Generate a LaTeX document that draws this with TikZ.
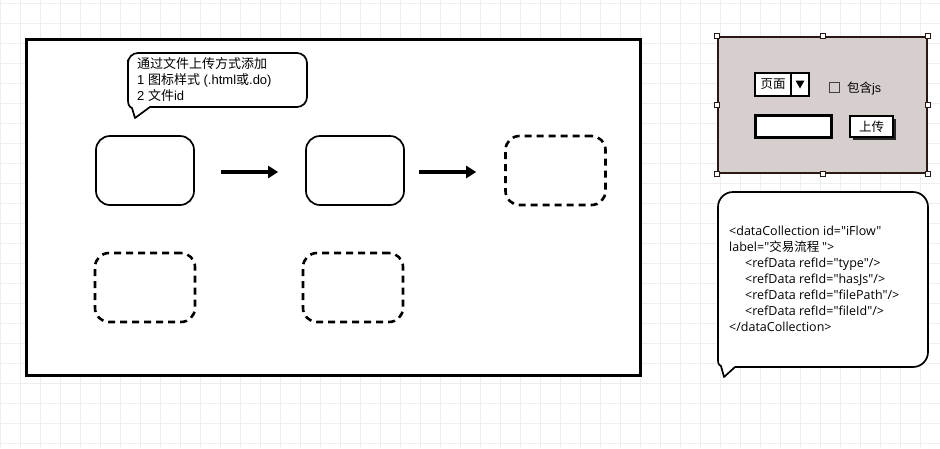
\documentclass[tikz,border=0pt]{standalone}
\usepackage{fontspec}
\setmainfont{Liberation Sans}
\newfontfamily\cjk{Noto Sans CJK SC}
\newfontfamily\xmlfont[Ligatures={NoCommon}]{Open Sans}
\newcommand\zh[1]{{\cjk #1}}
\usetikzlibrary{arrows.meta}
\definecolor{gridline}{RGB}{238,238,238}
\definecolor{panelfill}{RGB}{214,207,206}
\definecolor{paneledge}{RGB}{42,24,20}
\begin{document}
\begin{tikzpicture}[x=1pt,y=-1pt,
  frame/.style={draw=black, line width=3pt, fill=white, inner sep=0pt},
  stage/.style={draw=black, line width=1.7pt, rounded corners=14pt, fill=white,
    minimum width=98pt, minimum height=69pt, inner sep=0pt},
  todo/.style={stage, line width=2.6pt, dash pattern=on 7pt off 5pt, minimum width=100pt},
  flow/.style={line width=3.2pt, -{Triangle[length=10pt,width=12pt]}},
  callout/.style={draw=black, line width=1.7pt, fill=white, line join=round},
  panel/.style={draw=paneledge, line width=2pt, fill=panelfill, inner sep=0pt},
  handle/.style={draw=paneledge, fill=white, line width=0.7pt, minimum size=5pt, inner sep=0pt},
  field/.style={draw=black, fill=white, line width=1.4pt, inner sep=0pt},
  ui/.style={font=\cjk\fontsize{12.5}{14}\selectfont},
]
\useasboundingbox (0,0) rectangle (940,448);
% background grid
\fill[white] (0,0) rectangle (940,448);
\foreach \x in {0,20,...,940} \draw[gridline, line width=1pt] (\x,0) -- (\x,448);
\foreach \y in {3,23,...,443} \draw[gridline, line width=1pt] (0,\y) -- (940,\y);

% board
\node[frame, minimum width=614pt, minimum height=336pt] (board) at (333,207) {};

% note on the board
\draw[callout] (150,107) [rounded corners=10pt] -- (307,107) -- (307,53) -- (128,53) -- (128,70)
  [sharp corners] -- (128,100) to[out=-90,in=160] (132,108) -- (135,118) -- cycle;
\node[anchor=north west, align=left, inner sep=0pt, font=\fontsize{13}{16}\selectfont] (note1) at (137,57)
  {\zh{通过文件上传方式添加}\\1 \zh{图标样式} (.html\zh{或}.do)\\2 \zh{文件}id};

% flow stages
\node[stage] (s1) at (145,170.5) {};
\node[stage] (s2) at (355,170.5) {};
\node[todo]  (s3) at (555.5,170.5) {};
\node[todo]  (s4) at (145,287.5) {};
\node[todo]  (s5) at (353,287.5) {};
\draw[flow] ([xshift=26pt,yshift=-1.5pt]s1.east) -- ([xshift=-27pt,yshift=-1.5pt]s2.west);
\draw[flow] ([xshift=14pt,yshift=-1.5pt]s2.east) -- ([xshift=-28pt,yshift=-1.5pt]s3.west);

% upload form
\node[panel, minimum width=209pt, minimum height=136pt] (panel) at (822.5,105) {};
\foreach \a [count=\n] in {north west,north,north east,west,east,south west,south,south east}
  \node[handle] (h\n) at (panel.\a) {};
\node[field, ui, minimum width=36pt, minimum height=23pt] (pick) at (773,84.5) {页面};
\node[field, minimum width=18pt, minimum height=23pt] (pickbtn) at (800,84.5) {};
\fill (795.5,80.5) -- (804.5,80.5) -- (800,88.5) -- cycle;
\node[draw=black!75, line width=1pt, minimum size=10pt, inner sep=0pt] (jsbox) at (834.5,87.5) {};
\node[anchor=west, inner sep=0pt, font=\fontsize{12.5}{14}\selectfont] (jslabel) at (847,88.5) {\zh{包含}js};
\node[field, line width=2.2pt, minimum width=76pt, minimum height=22pt] (pathfield) at (793.5,126.5) {};
\fill[black!85] (853,119) rectangle (896,140);
\node[field, ui, line width=1.2pt, minimum width=43pt, minimum height=21pt] (upload) at (871.5,126.5) {上传};

% data definition note
\draw[callout] (735,367) [rounded corners=15pt] -- (928,367) -- (928,192) -- (718,192) -- (718,250)
  [sharp corners] -- (718,357) to[out=-90,in=160] (721,366) -- (724,377) -- cycle;
\node[anchor=north west, align=left, inner sep=0pt, font=\xmlfont\fontsize{12.5}{16}\selectfont] (xml) at (729,226)
  {<dataCollection id="iFlow"\\
   label="\zh{交易流程 }">\\
   \hspace*{16pt}<refData refId="type"/>\\
   \hspace*{16pt}<refData refId="hasJs"/>\\
   \hspace*{16pt}<refData refId="filePath"/>\\
   \hspace*{16pt}<refData refId="fileId"/>\\
   </dataCollection>};
\end{tikzpicture}
\end{document}
